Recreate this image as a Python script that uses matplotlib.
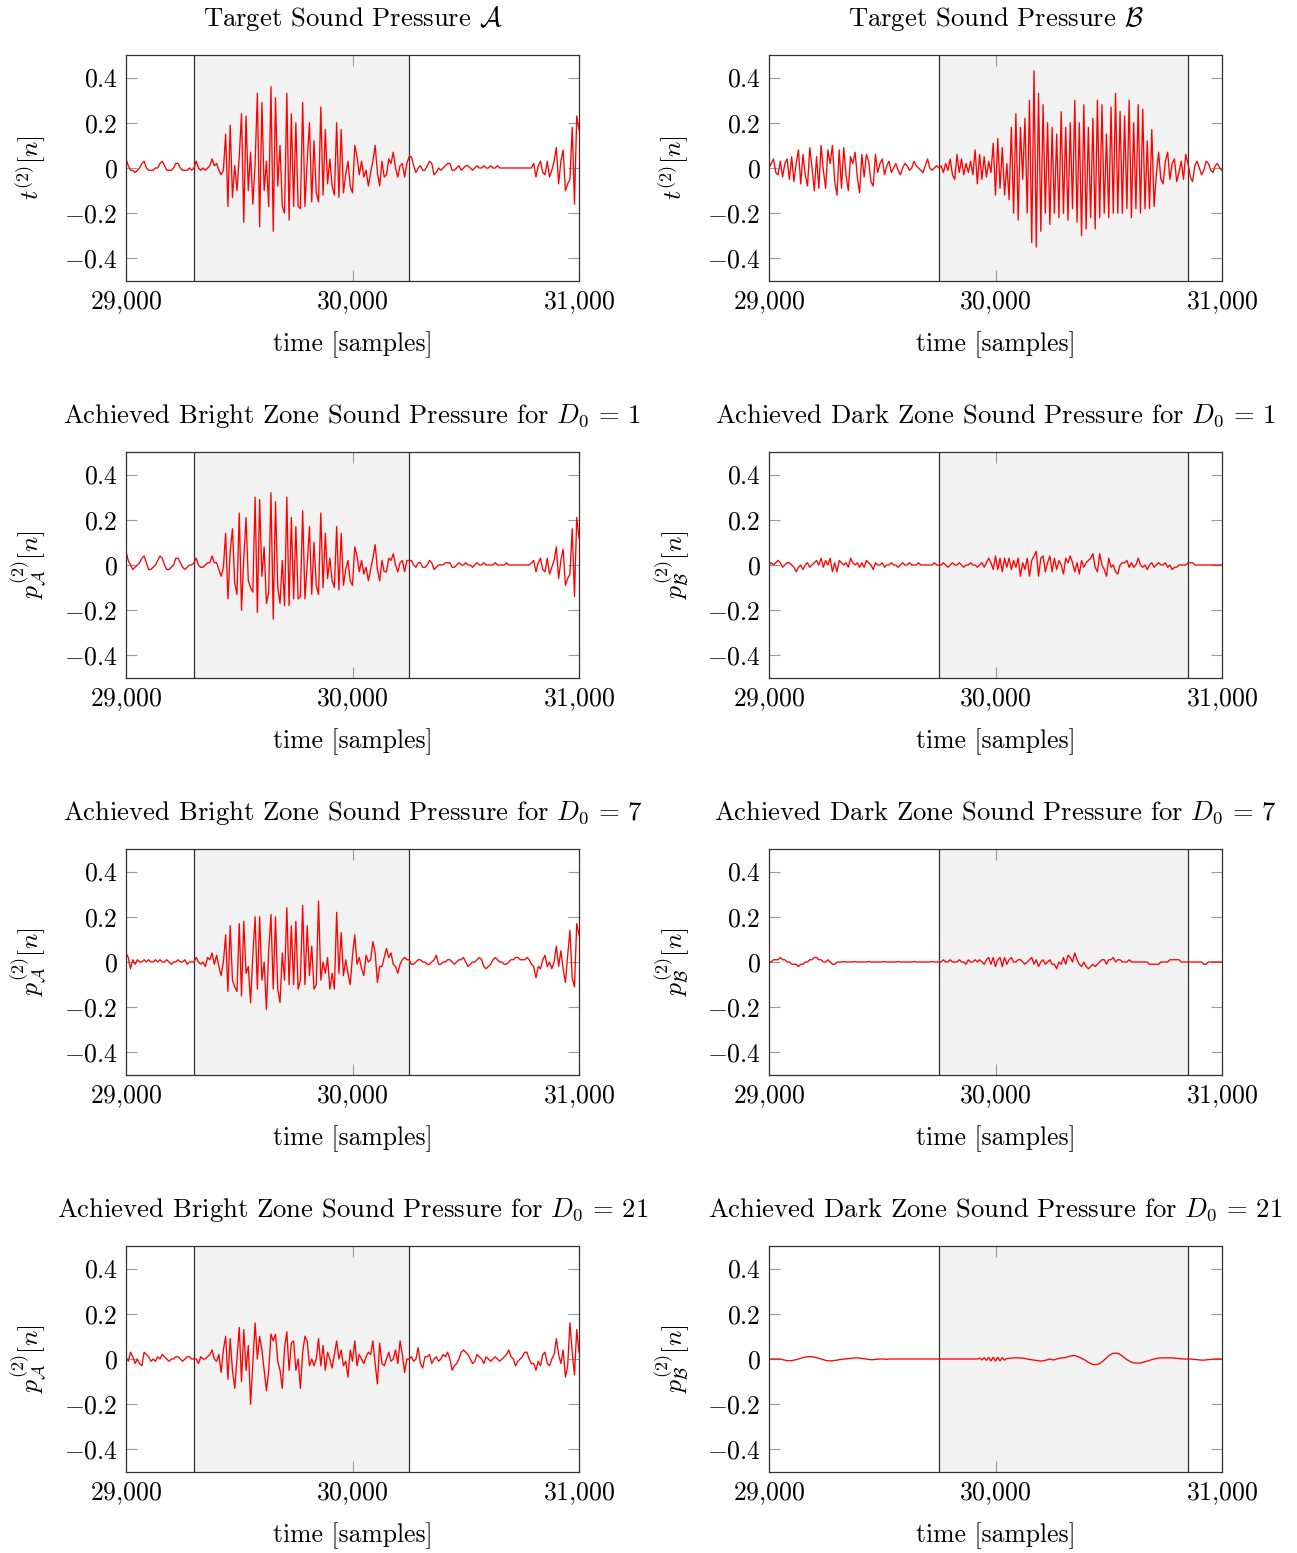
import numpy as np
import matplotlib
matplotlib.use('Agg')
import matplotlib.pyplot as plt

plt.rcParams['font.family'] = 'serif'
plt.rcParams['font.serif'] = ['cmr10']
plt.rcParams['mathtext.fontset'] = 'cm'
plt.rcParams['axes.unicode_minus'] = False

# samples 29000..31000, one value every 10 samples, amplitude in hundredths
start = 29000
step = 10

target_a = [
    4, 1, -1, -1, -2, -1, 0, 2, 3, 0,
    -1, -1, -1, 0, 0, 2, 3, 1, -1, -1,
    -1, 0, 2, 2, 0, -1, -1, -1, 0, -1,
    0, 3, 0, -1, 0, -1, 0, 1, 4, 1,
    2, -1, -3, -1, 15, -17, 19, -13, 1, -10,
    5, 24, -24, 23, -10, 7, -16, 2, 33, -26,
    29, -10, 3, -17, 36, -28, 31, -8, 10, -17,
    -20, 33, -23, 24, -17, 20, -17, -18, 29, -17,
    3, 20, -15, 12, -11, -15, 27, -12, 17, -7,
    4, -8, -12, 20, -13, 17, -11, -3, 3, -8,
    -11, 10, 5, -3, 3, -4, -1, -8, -2, 3,
    10, -2, -8, 3, -4, -3, 4, 2, 7, 0,
    -4, 1, 2, -4, 2, 5, 5, 1, -2, 0,
    1, -1, -1, 1, 3, 2, -3, -2, 0, -1,
    0, 1, 2, 2, -1, -1, 0, 1, -1, 0,
    1, 1, 0, -1, 0, 1, 0, 0, 1, 0,
    0, 1, 0, 0, 1, 0, 0, 0, 0, 0,
    0, 0, 0, 0, 0, 0, 0, 0, 0, 0,
    2, -4, 1, 3, -2, -3, 3, -4, -1, 3,
    9, -7, 3, 8, -10, -7, -5, 18, -16, 23,
    17,
]

target_b = [
    0, 2, 4, -2, -3, 3, -4, 2, 4, -5,
    5, -6, 2, 8, -7, 6, -3, -8, 9, 0,
    -10, 5, -9, 10, -1, -9, 8, 2, 10, -6,
    -12, 8, -9, 9, -3, -10, 5, 2, 7, -4,
    -11, 6, -4, 6, 3, -6, -8, 6, -2, 2,
    4, -3, 1, 3, -2, 0, 2, -1, -3, 0,
    2, 1, -1, 0, 3, 1, 0, -1, -2, 1,
    4, 0, -1, 0, 1, 0, 1, -2, 2, -1,
    4, -3, -5, 6, -2, 4, -3, 2, -2, 3,
    -3, 8, -7, 6, -5, 5, -4, 3, -2, 11,
    -12, 13, -9, 9, -12, 2, -14, 18, -20, 24,
    -23, 18, -5, 22, -20, 30, -33, 43, -35, 33,
    -28, 28, -20, 20, -25, 18, -20, 15, -22, 25,
    -20, 18, -23, 20, -18, 30, -24, 20, -30, 28,
    -27, 18, -22, 22, -27, 30, -22, 28, -20, 15,
    -22, 27, -20, 33, -20, 25, -20, 23, -18, 30,
    -22, 20, -18, 28, -20, 26, -18, 12, -18, 17,
    -17, -3, 7, -5, -7, 3, 7, -5, 2, 4,
    -6, -2, 3, -5, 6, 2, -4, -6, 1, 3,
    0, -3, -1, 3, 2, -1, -2, 1, 2, 0,
    -1,
]

bright_d1 = [
    6, 2, 0, -2, -1, 0, 1, 3, 4, 1,
    -2, -2, -1, 0, 2, 4, 3, 0, -2, -2,
    -1, 0, 3, 3, 1, -1, -2, -1, 0, 0,
    1, 3, 0, -1, -1, 0, 1, 1, 4, 1,
    1, -2, -5, -1, 14, -15, 6, 16, -8, -13,
    23, -20, 3, 21, -7, -10, -12, 30, -21, 29,
    -5, 8, -17, -12, 32, -24, 28, -10, -17, 2,
    -18, 30, -18, 21, -15, 17, -15, -14, 24, -15,
    0, 17, -13, 10, -9, -13, 23, -10, 14, -6,
    3, -7, -10, 17, -11, 14, -9, -2, 2, -7,
    -9, 8, 4, -3, 2, -4, -1, -7, -2, 3,
    9, -2, -7, 2, -3, -3, 3, 2, 5, 0,
    -3, 1, 2, -3, 2, 2, 2, 0, -1, 1,
    1, -1, -1, 0, 2, 1, -2, -1, 0, 0,
    0, 1, 1, 1, -1, -1, 0, 1, 0, 0,
    1, 0, 0, -1, 0, 1, 0, 0, 1, 0,
    0, 0, 0, 1, 0, 0, 0, 0, 1, 0,
    0, 0, 0, 0, 0, 0, 0, 0, 0, 1,
    2, -3, 1, 3, -2, -3, 3, -4, -1, 2,
    8, -6, 2, 7, -9, -6, -4, 16, -14, 21,
    12,
]

dark_d1 = [
    0, 1, 0, 1, 2, 1, -1, 0, 1, 1,
    0, -1, -3, -1, 0, -2, 0, 1, -1, 0,
    1, 2, 0, 3, -1, 2, 0, 3, -3, 1,
    -3, 2, 1, 0, 1, -1, 3, 1, 0, 1,
    -1, 1, -1, 2, 1, 0, -2, 1, 0, 0,
    1, -1, 0, 0, 1, 0, 0, -1, 0, 1,
    0, 0, 1, 0, 0, 0, 1, 0, 0, 0,
    0, 0, 0, 1, 0, 0, 0, 1, 0, -1,
    0, 1, 0, 0, 1, 0, -1, 0, 0, 1,
    0, 0, -1, 0, 1, -1, 1, 3, 1, -2,
    4, -2, 3, -3, 3, -1, 3, -2, 2, -1,
    3, -5, 1, -2, 3, -5, 2, 4, 6, -5,
    3, 4, -3, 1, 4, -3, 3, -2, 2, 0,
    -4, 3, 1, 4, 1, -3, 1, -4, 2, -1,
    1, 2, 3, 5, -1, -3, 5, 0, -2, -5,
    3, -1, 0, -3, -4, 0, 1, 1, 2, -1,
    1, -1, 0, 3, 0, -1, 0, -2, 0, 1,
    -1, 0, 1, 0, 0, 1, -1, 0, -2, -1,
    -1, 0, 0, 0, 0, 1, 1, 1, 0, 0,
    0, 0, 0, 0, 0, 0, 0, 0, 0, 0,
    0,
]

bright_d7 = [
    4, 2, -3, 1, -1, 1, 0, 0, 1, 0,
    1, 0, 0, 1, 0, 1, 0, 0, 1, 0,
    -1, 0, 0, 1, 0, 0, 1, -1, 0, 0,
    0, 2, 0, -1, 0, -2, 2, 1, 4, -1,
    3, -2, -6, 0, 12, -13, 16, -8, -11, -13,
    17, -15, 18, -5, -2, -18, 3, 20, -12, 20,
    -8, 0, -21, 5, 21, -12, 20, -12, -18, 4,
    -8, 24, -10, 16, -10, 18, -12, -8, 25, -10,
    16, -6, 7, -12, -10, 27, -8, 0, -5, 2,
    -12, -5, -12, 22, -5, 13, -6, 1, -5, -10,
    3, 12, -1, 2, -3, -6, 3, 0, 1, 9,
    4, -9, -2, -2, 2, 6, 2, 4, -1, -2,
    -5, -1, 1, 2, 1, 1, -1, -1, 0, 1,
    1, 0, 0, -1, -1, 0, 1, 3, -1, -1,
    0, 0, 1, 1, 0, -1, 0, 1, 1, 2,
    0, -2, -1, 0, 0, 1, 2, 1, -2, -3,
    -2, -1, 1, 2, 1, 0, 0, -1, -1, 0,
    1, 1, 2, 2, 1, 1, 1, 2, 1, -1,
    -2, -7, -2, -3, 1, 3, -2, 0, -3, 0,
    7, -2, 5, -3, -9, 3, 14, -7, -11, 17,
    12,
]

dark_d7 = [
    0, 0, 1, 1, 1, 2, 1, 1, 0, 0,
    -1, -1, -1, -2, -1, -1, 0, 0, 1, 1,
    2, 2, 1, 1, 0, 0, 1, 0, -1, -1,
    0, 0, 0, 0.2, 0, 0, 0, 0, 0.2, 0,
    0, 0, 0, 0, 0.2, 0, 0, 0, 0, 0,
    0, 0.2, 0, 0, 0, 0, 0, 0.2, 0, 0,
    0, 0, 0, 0, 0.2, 0, 0, 0, 0, 0,
    0, 0, 0.2, 0, 0, 0, 0, 1, 0, 0,
    1, 0, 0, 0, 1, 0, 0, -1, 1, 0,
    0, 1, 0, 1, 0, -1, 1, 2, -1, 2,
    -2, 1, 2, -2, 2, -1, 1, 2, 0, 0,
    1, 1, 0, -1, 0, 1, 2, -1, 1, -2,
    0, 1, -1, 0, 1, -1, -1, -3, 0, -1,
    2, -1, 3, 2, 0, 4, 1, -1, -2, 0,
    -2, -3, -2, -1, -2, -1, 0, 1, 1, -1,
    1, 1, 2, 0, 1, 1, 0, 0, 0, 1,
    0, 0, 0, 0, 0, 0, 0, 0, -1, -1,
    -1, -1, -1, 0, 0, 0, 0, 1, 1, 1,
    1, 1, 0, 0, 0, 0, 0, 0, 0, 0,
    0, 0, -1, -1, 0, 0, 0, 0, 0, 0,
    0,
]

bright_d21 = [
    1, -1, 3, 1, -2, 0, -2, -3, 3, 2,
    1, -1, 0, -1, 1, 0, 2, 1, 0, -1,
    0, 0, 1, 1, 0, -1, 0, 1, 1, 0,
    0, 0, -2, 1, 0, 0, 1, 2, 4, 0,
    -1, 2, -6, 4, 10, -9, 9, -5, -13, 0,
    14, -10, 13, -5, 6, -20, -2, 16, 0, 10,
    4, -5, -14, -5, 11, 8, 11, -1, -5, -13,
    5, 12, -5, 7, 8, -5, 0, -13, 3, 10,
    8, -3, 0, -3, 0, 9, -3, 6, -5, 3,
    0, -4, 2, 8, 0, 4, -3, -1, -8, 4,
    -1, 8, -3, 2, 0, -2, 1, 3, 2, 8,
    -2, -11, 7, -2, -3, 0, 3, -1, 0, 4,
    -2, 8, 2, -6, 0, 0, 1, -1, 0, 5,
    -2, -4, 1, 1, 2, -2, 0, 1, -1, 0,
    2, 1, 3, 0, -5, -3, -2, 0, 3, 4,
    3, 2, 0, -2, -1, 2, 1, 0, -2, 1,
    0, -1, 0, 1, 0, -1, 0, 1, 2, 4,
    1, 0, -3, -1, 0, 1, 3, 3, 0, -2,
    -2, -5, -1, -3, 2, 3, -2, -3, 0, 2,
    9, 2, -2, 4, -8, -3, 16, 3, -7, 13,
    3,
]

dark_d21 = [
    0, 0, 0, 0, 0, 0, -0.3, -0.5, -0.7, -0.8,
    -0.7, -0.5, -0.3, 0, 0.3, 0.6, 0.9, 1, 1, 1,
    0.8, 0.6, 0.3, 0, -0.3, -0.6, -0.8, -0.8, -0.8, -0.6,
    -0.5, -0.3, -0.2, 0, 0, 0.2, 0.3, 0.4, 0.5, 0.5,
    0.4, 0.3, 0.1, 0, -0.2, -0.3, -0.3, -0.2, -0.1, 0,
    0, 0, -0.2, 0, 0, 0, 0, 0, 0, 0,
    0, 0, 0, 0, 0, 0, 0, 0, 0, 0,
    0, 0, 0, 0, 0, 0, 0, 0, 0, 0,
    0, 0, 0, 0, 0, 0, 0, 0, 0, 0,
    0, 0, 0, 0.4, -0.4, 0.6, -0.6, 0.8, -0.8, 0.8,
    -0.9, 0.8, -0.8, 0.6, -0.5, 0.2, 0.3, 0.4, 0.5, 0.5,
    0.5, 0.4, 0.4, 0.2, 0, -0.2, -0.3, -0.5, -0.6, -0.8,
    -0.9, -0.8, -0.6, -0.3, 0, -0.3, -0.4, 0, 0.3, 0.5,
    0.5, 0.7, 1, 1.3, 1.5, 1.5, 1.2, 0.8, 0.3, -0.2,
    -0.8, -1.5, -2, -2.4, -2.5, -2.4, -2, -1.3, -0.4, 0.5,
    1.4, 2.1, 2.5, 2.6, 2.5, 2, 1.3, 0.5, -0.3, -0.9,
    -1.4, -1.7, -1.8, -1.8, -1.7, -1.5, -1.2, -0.9, -0.6, -0.3,
    0, 0.2, 0.4, 0.5, 0.5, 0.5, 0.5, 0.5, 0.5, 0.4,
    0.3, 0.2, 0.1, 0, 0, 0, 0, -0.1, -0.2, -0.3,
    -0.4, -0.5, -0.5, -0.4, -0.3, -0.2, -0.1, 0, 0, 0,
    0,
]

zone_a = (29300, 30250)
zone_b = (29750, 30850)

xticks = [29000, 30000, 31000]
xticklabels = [r'$29{,}000$', r'$30{,}000$', r'$31{,}000$']
yticks = [-0.4, -0.2, 0, 0.2, 0.4]
yticklabels = [r'$-0.4$', r'$-0.2$', r'$0$', r'$0.2$', r'$0.4$']

panels = [
    (target_a, zone_a, r'Target Sound Pressure $\mathcal{A}$', r'$t^{(2)}[n]$'),
    (target_b, zone_b, r'Target Sound Pressure $\mathcal{B}$', r'$t^{(2)}[n]$'),
    (bright_d1, zone_a, r'Achieved Bright Zone Sound Pressure for $D_0\,=\,1$', r'$p_{\mathcal{A}}^{(2)}[n]$'),
    (dark_d1, zone_b, r'Achieved Dark Zone Sound Pressure for $D_0\,=\,1$', r'$p_{\mathcal{B}}^{(2)}[n]$'),
    (bright_d7, zone_a, r'Achieved Bright Zone Sound Pressure for $D_0\,=\,7$', r'$p_{\mathcal{A}}^{(2)}[n]$'),
    (dark_d7, zone_b, r'Achieved Dark Zone Sound Pressure for $D_0\,=\,7$', r'$p_{\mathcal{B}}^{(2)}[n]$'),
    (bright_d21, zone_a, r'Achieved Bright Zone Sound Pressure for $D_0\,=\,21$', r'$p_{\mathcal{A}}^{(2)}[n]$'),
    (dark_d21, zone_b, r'Achieved Dark Zone Sound Pressure for $D_0\,=\,21$', r'$p_{\mathcal{B}}^{(2)}[n]$'),
]

W, H = 1297, 1553
fig = plt.figure(figsize=(W / 100, H / 100), dpi=100)
lefts = [126, 769]
tops = [55, 452, 849, 1246]
fs = 18.5
fs_title = 19.2

for k, (vals, zone, title, ylab) in enumerate(panels):
    row, col = divmod(k, 2)
    ax = fig.add_axes([lefts[col] / W, 1 - (tops[row] + 226) / H, 453 / W, 226 / H])
    y = np.array(vals, dtype=float) / 100
    x = start + step * np.arange(len(y))

    ax.axvspan(zone[0], zone[1], color='#f2f2f2', lw=0, zorder=0)
    for b in zone:
        ax.axvline(b, color='#303030', lw=0.9, zorder=1)
    ax.plot(x, y, color='red', lw=0.95, zorder=2)

    ax.set_xlim(29000, 31000)
    ax.set_ylim(-0.5, 0.5)
    ax.set_xticks(xticks)
    ax.set_xticklabels(xticklabels)
    ax.set_yticks(yticks)
    ax.set_yticklabels(yticklabels)
    ax.tick_params(direction='in', length=8, width=0.8, color='#9a9a9a',
                   top=True, right=True, labelsize=fs, pad=6)
    for s in ax.spines.values():
        s.set_color('#303030')
        s.set_linewidth(0.9)

    ax.set_title(title, fontsize=fs_title, pad=21)
    ax.set_xlabel('time [samples]', fontsize=fs, labelpad=11)
    ax.set_ylabel(ylab, fontsize=fs, labelpad=11)

fig.savefig('out.png', dpi=100)
